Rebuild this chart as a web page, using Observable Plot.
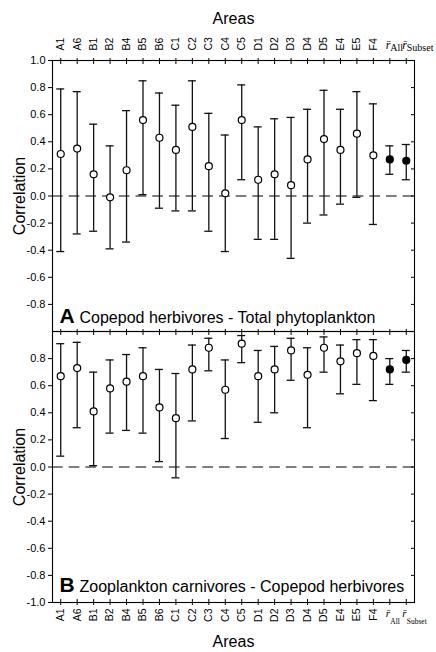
<!DOCTYPE html>
<html><head><meta charset="utf-8">
<script src="https://cdn.jsdelivr.net/npm/d3@7"></script>
<script src="https://cdn.jsdelivr.net/npm/@observablehq/plot@0.6"></script>
<style>
html,body{margin:0;padding:0;background:#fff;}
#chart{position:relative;width:436px;height:652px;overflow:hidden;background:#fff;}
#chart svg{position:absolute;left:0;overflow:visible;}
</style></head><body><div id="chart"></div>
<script>
// ---- data ----
const areas = ["A1","A6","B1","B2","B4","B5","B6","C1","C2","C3","C4","C5","D1","D2","D3","D4","D5","E4","E5","F4"];
const summaryKeys = ["rAll","rSubset"];
const summarySubs = ["All","Subset"];
const summarySymbol = "r\u0304";
const xDomain = [...areas, ...summaryKeys];

// Panel A: Copepod herbivores - Total phytoplankton
const corrA = [0.31,0.35,0.16,-0.01,0.19,0.56,0.43,0.34,0.51,0.22,0.02,0.56,0.12,0.16,0.08,0.27,0.42,0.34,0.46,0.30, 0.27,0.26];
const loA   = [-0.41,-0.28,-0.26,-0.39,-0.34,0.01,-0.09,-0.11,-0.11,-0.26,-0.41,0.12,-0.32,-0.32,-0.46,-0.20,-0.14,-0.06,-0.01,-0.21, 0.16,0.12];
const hiA   = [0.79,0.77,0.53,0.37,0.63,0.85,0.76,0.67,0.85,0.61,0.45,0.82,0.51,0.57,0.58,0.64,0.78,0.64,0.77,0.68, 0.37,0.38];

// Panel B: Zooplankton carnivores - Copepod herbivores
const corrB = [0.67,0.73,0.41,0.58,0.63,0.67,0.44,0.36,0.72,0.88,0.57,0.91,0.67,0.72,0.86,0.68,0.88,0.78,0.84,0.82, 0.72,0.79];
const loB   = [0.08,0.29,0.01,0.25,0.27,0.25,0.04,-0.08,0.34,0.71,0.21,0.77,0.33,0.40,0.64,0.29,0.70,0.54,0.61,0.49, 0.61,0.70];
const hiB   = [0.91,0.92,0.70,0.79,0.83,0.88,0.72,0.69,0.90,0.95,0.79,0.97,0.86,0.89,0.95,0.88,0.96,0.90,0.94,0.94, 0.80,0.86];

const yTicksA = [1.0,0.8,0.6,0.4,0.2,0.0,-0.2,-0.4,-0.6,-0.8];
const yTicksB = [0.8,0.6,0.4,0.2,0.0,-0.2,-0.4,-0.6,-0.8,-1.0];
const yTicksAll = [1.0,0.8,0.6,0.4,0.2,0.0,-0.2,-0.4,-0.6,-0.8,-1.0];
const titleA = "Copepod herbivores - Total phytoplankton";
const titleB = "Zooplankton carnivores - Copepod herbivores";
const xTitle = "Areas";
const yTitle = "Correlation";

function rows(corr, lo, hi) {
  return xDomain.map((k, i) => ({key: k, r: corr[i], lo: lo[i], hi: hi[i], summary: i >= areas.length}));
}
const sumLabels = summaryKeys.map((k, i) => ({key: k, sub: summarySubs[i]}));

const FONT = "'Liberation Sans', Arial, sans-serif";
const SERIF = "'Liberation Serif', 'Times New Roman', serif";

function panel({data, letter, title, yTicks, isTop, height, marginTop, marginBottom}) {
  const areaRows = data.filter(d => !d.summary);
  const sumRows = data.filter(d => d.summary);
  const marks = [
    Plot.ruleY([0], {stroke: "#000", strokeWidth: 1.1, strokeDasharray: "10.7,6"}),
    Plot.ruleX(data, {x: "key", y1: "lo", y2: "hi", stroke: "#111", strokeWidth: 1.3}),
    Plot.tickY(data, {x: "key", y: "lo", stroke: "#111", strokeWidth: 1.3}),
    Plot.tickY(data, {x: "key", y: "hi", stroke: "#111", strokeWidth: 1.3}),
    Plot.dot(areaRows, {x: "key", y: "r", r: 3.5, fill: "white", stroke: "#000", strokeWidth: 1.2}),
    Plot.dot(sumRows, {x: "key", y: "r", r: 3.5, fill: "#000", stroke: "#000", strokeWidth: 1.2}),
    Plot.frame({stroke: "#000", strokeWidth: 1.1}),
    Plot.axisY({anchor: "left", ticks: yTicks, tickSize: 4, tickPadding: 3, tickFormat: d => d.toFixed(1), label: null, fontSize: 11}),
    Plot.axisY({anchor: "right", ticks: yTicksAll, tickSize: 4, dx: -4, fill: "none", label: null}),
    Plot.text([letter], {frameAnchor: "bottom-left", textAnchor: "start", lineAnchor: "bottom", dx: 7, dy: isTop ? -9 : -11, fontWeight: "bold", fontSize: 21}),
    Plot.text([title], {frameAnchor: "bottom-left", textAnchor: "start", lineAnchor: "bottom", dx: 27, dy: isTop ? -9 : -11, fontSize: 16}),
    Plot.text([yTitle], {frameAnchor: "left", rotate: -90, textAnchor: "middle", lineAnchor: "bottom", dx: -28, fontSize: 16}),
    // ticks crossing the top edge
    Plot.axisX({anchor: "top", tickSize: 6, dy: 3, fill: "none", label: null})
  ];
  if (isTop) {
    marks.push(
      Plot.axisX({anchor: "top", ticks: areas, tickSize: 0, tickPadding: 10, tickRotate: -90, label: null, fontSize: 10.5}),
      Plot.text(sumLabels, {x: "key", text: () => summarySymbol, frameAnchor: "top", dy: -12, dx: -4, textAnchor: "start", lineAnchor: "bottom", fontFamily: SERIF, fontStyle: "italic", fontSize: 12}),
      Plot.text(sumLabels, {x: "key", text: "sub", frameAnchor: "top", dy: -10, dx: 0.5, textAnchor: "start", lineAnchor: "bottom", fontFamily: SERIF, fontSize: 10}),
      Plot.text([xTitle], {frameAnchor: "top", dy: -37, textAnchor: "middle", lineAnchor: "bottom", fontSize: 16})
    );
  } else {
    marks.push(
      Plot.axisX({anchor: "bottom", tickSize: 6, dy: -3, fill: "none", label: null}),
      Plot.axisX({anchor: "bottom", ticks: areas, tickSize: 0, tickPadding: 6, tickRotate: -90, label: null, fontSize: 10.5}),
      Plot.text(sumLabels, {x: "key", text: () => summarySymbol, frameAnchor: "bottom", dy: 14, dx: -4, textAnchor: "start", lineAnchor: "bottom", fontFamily: SERIF, fontStyle: "italic", fontSize: 11}),
      Plot.text(sumLabels, {x: "key", text: "sub", frameAnchor: "bottom", dy: 21, dx: 0.5, textAnchor: "start", lineAnchor: "bottom", fontFamily: SERIF, fontSize: 7.5}),
      Plot.text([xTitle], {frameAnchor: "bottom", dy: 44, textAnchor: "middle", lineAnchor: "bottom", fontSize: 16})
    );
  }
  return Plot.plot({
    width: 436,
    height,
    marginLeft: 52,
    marginRight: 22,
    marginTop,
    marginBottom,
    style: {fontFamily: FONT, fontSize: "11px", background: "transparent", overflow: "visible", color: "#000"},
    x: {type: "band", domain: xDomain, paddingInner: 0.513, paddingOuter: 0.2565, align: 0.5, round: false},
    y: {domain: [-1, 1]},
    marks
  });
}

const chart = document.getElementById("chart");
const svgA = panel({data: rows(corrA, loA, hiA), letter: "A", title: titleA, yTicks: yTicksA, isTop: true, height: 334, marginTop: 60, marginBottom: 3});
svgA.style.top = "0px";
const svgB = panel({data: rows(corrB, loB, hiB), letter: "B", title: titleB, yTicks: yTicksB, isTop: false, height: 331, marginTop: 10, marginBottom: 50});
svgB.style.top = "321px";
chart.appendChild(svgA);
chart.appendChild(svgB);
</script>
</body></html>
